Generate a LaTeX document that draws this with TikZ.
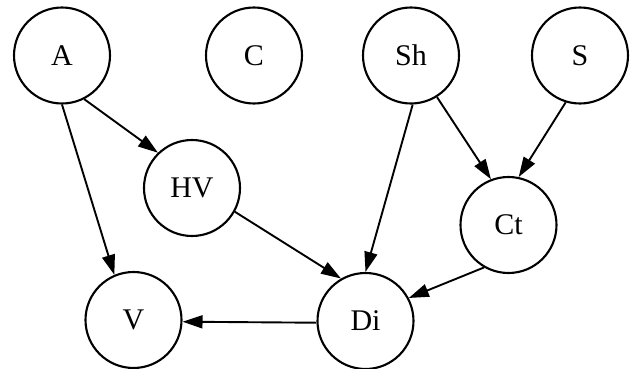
\documentclass[tikz,border=0pt]{standalone}
\usepackage{fontspec}
\setmainfont{Liberation Serif}
\usetikzlibrary{arrows.meta}
\begin{document}
\begin{tikzpicture}[x=1pt,y=-1pt,
  vert/.style={circle,draw,line width=2.1pt,minimum size=96pt,inner sep=0pt,font=\fontsize{30}{34}\selectfont},
  edge/.style={line width=1.9pt,-{Triangle[length=20pt,width=13pt]}}]
\useasboundingbox (0,0) rectangle (633,369);
\node[vert] (A) at (62,55.5) {A};
\node[vert] (C) at (254,55.5) {C};
\node[vert] (Sh) at (411,55.5) {Sh};
\node[vert] (S) at (580,55.5) {S};
\node[vert] (HV) at (192,188) {HV};
\node[vert] (Ct) at (508.5,225) {Ct};
\node[vert] (V) at (133.5,320) {V};
\node[vert] (Di) at (365.5,321) {Di};
\draw[edge] (A.-63) -- (HV.134);
\draw[edge] (A.-90) -- (V.113);
\draw[edge] (Sh.-58) -- (Ct.111);
\draw[edge] (S.-107) -- (Ct.78);
\draw[edge] (Sh.-88) -- (Di.90);
\draw[edge] (HV.-29) -- (Di.120);
\draw[edge] (Ct.-120) -- (Di.28);
\draw[edge] (Di.182) -- (V.-2);
\end{tikzpicture}
\end{document}
